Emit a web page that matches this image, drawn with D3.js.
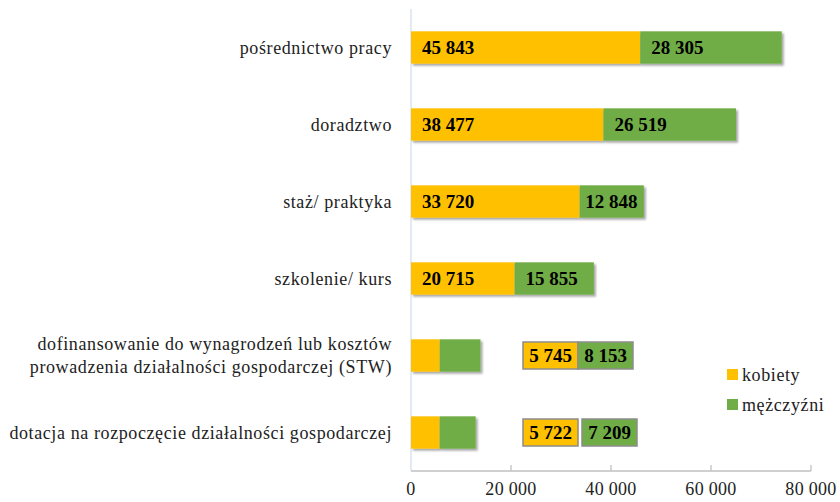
<!DOCTYPE html>
<html>
<head>
<meta charset="utf-8">
<script src="https://cdn.jsdelivr.net/npm/d3@7"></script>
<style>
  body { margin: 0; background: #fff; }
  svg text { font-family: "Liberation Serif", "DejaVu Serif", serif; }
</style>
</head>
<body>
<div id="chart-area"></div>
<script>
const categories = [
    "pośrednictwo pracy",
    "doradztwo",
    "staż/ praktyka",
    "szkolenie/ kurs",
    "dofinansowanie do wynagrodzeń lub kosztów\nprowadzenia działalności gospodarczej (STW)",
    "dotacja na rozpoczęcie działalności gospodarczej"
];
const kobiety = [45843, 38477, 33720, 20715, 5745, 5722];
const mezczyzni = [28305, 26519, 12848, 15855, 8153, 7209];
const seriesNames = ["kobiety", "mężczyźni"];
const xTicks = [0, 20000, 40000, 60000, 80000];

const colors = ["#FFC000", "#70AD47"];
const serif = "'Liberation Serif', 'Times New Roman', serif";
const fmt = d => d3.format(",")(d).replace(/,/g, " ");

const svgWidth = 840, svgHeight = 502;
const svg = d3.select("#chart-area").append("svg")
    .attr("width", svgWidth)
    .attr("height", svgHeight)
    .style("font-family", serif);

const defs = svg.append("defs");
defs.append("filter")
    .attr("id", "shadow")
    .attr("x", "-5%").attr("y", "-20%")
    .attr("width", "115%").attr("height", "150%")
    .append("feDropShadow")
    .attr("dx", 2).attr("dy", 2)
    .attr("stdDeviation", 1.3)
    .attr("flood-color", "#000")
    .attr("flood-opacity", 0.35);

const x = d3.scaleLinear().domain([0, 80000]).range([411, 811]);
const y = d3.scaleBand().domain(categories).range([9, 471])
    .paddingInner(0.58).paddingOuter(0.29);

const rows = categories.map((c, i) => ({ cat: c, k: kobiety[i], m: mezczyzni[i] }));

// axes
svg.append("line")
    .attr("x1", x(0)).attr("x2", x(0))
    .attr("y1", 9).attr("y2", 471)
    .attr("stroke", "#d5dfee").attr("stroke-width", 1.3);
svg.append("line")
    .attr("x1", x(0)).attr("x2", x(80000))
    .attr("y1", 471).attr("y2", 471)
    .attr("stroke", "#c0c0c0").attr("stroke-width", 1.3);
svg.selectAll(".tick-mark").data(xTicks.slice(1)).join("line")
    .attr("class", "tick-mark")
    .attr("x1", d => x(d)).attr("x2", d => x(d))
    .attr("y1", 465).attr("y2", 471)
    .attr("stroke", "#c0c0c0").attr("stroke-width", 1.3);
svg.selectAll(".tick-label").data(xTicks).join("text")
    .attr("class", "tick-label")
    .attr("x", d => x(d))
    .attr("y", 495)
    .attr("text-anchor", "middle")
    .attr("font-family", serif)
    .style("font-size", "18px")
    .style("letter-spacing", "0.3px")
    .attr("fill", "#222")
    .text(d => fmt(d));

// bars
const barG = svg.append("g").attr("filter", "url(#shadow)");
rows.forEach(r => {
    barG.append("rect")
        .attr("x", x(0)).attr("y", y(r.cat))
        .attr("width", x(r.k) - x(0)).attr("height", y.bandwidth())
        .attr("fill", colors[0]);
    barG.append("rect")
        .attr("x", x(r.k)).attr("y", y(r.cat))
        .attr("width", x(r.k + r.m) - x(r.k)).attr("height", y.bandwidth())
        .attr("fill", colors[1]);
});

// labels inside big bars
rows.slice(0, 4).forEach(r => {
    const cy = y(r.cat) + y.bandwidth() / 2 + 6.5;
    svg.append("text")
        .attr("x", x(0) + 11).attr("y", cy)
        .attr("font-family", serif)
        .style("font-size", "19px").style("font-weight", "bold")
        .text(fmt(r.k));
    const w = x(r.k + r.m) - x(r.k);
    svg.append("text")
        .attr("x", x(r.k) + Math.min(11, (w - 53) / 2)).attr("y", cy)
        .attr("font-family", serif)
        .style("font-size", "19px").style("font-weight", "bold")
        .text(fmt(r.m));
});

// moved labels for small bars (boxes)
const boxX = [[523, 578], [523, 582]];
rows.slice(4).forEach((r, i) => {
    const top = y(r.cat) + y.bandwidth() / 2 - 13.5;
    [r.k, r.m].forEach((v, j) => {
        const bx = boxX[i][j];
        svg.append("rect")
            .attr("x", bx).attr("y", top)
            .attr("width", 55).attr("height", 27)
            .attr("fill", colors[j])
            .attr("stroke", "#8c8c8c").attr("stroke-width", 1.5);
        svg.append("text")
            .attr("x", bx + 27.5).attr("y", top + 20)
            .attr("text-anchor", "middle")
            .attr("font-family", serif)
            .style("font-size", "19px").style("font-weight", "bold")
            .text(fmt(v));
    });
});

// category labels
rows.forEach(r => {
    const lines = r.cat.split("\n");
    const cy = y(r.cat) + y.bandwidth() / 2;
    const t = svg.append("text")
        .attr("text-anchor", "end")
        .attr("font-family", serif)
        .style("font-size", "18px")
        .style("letter-spacing", "0.6px")
        .attr("fill", "#222");
    lines.forEach((ln, li) => {
        t.append("tspan")
            .attr("x", 392)
            .attr("y", cy + 6 + (li - (lines.length - 1) / 2) * 23)
            .text(ln);
    });
});

// legend
seriesNames.forEach((s, i) => {
    svg.append("rect")
        .attr("x", 727).attr("y", 369 + i * 30)
        .attr("width", 11).attr("height", 11)
        .attr("fill", colors[i]);
    svg.append("text")
        .attr("x", 742).attr("y", 381 + i * 30)
        .attr("font-family", serif)
        .style("font-size", "18px")
        .style("letter-spacing", "0.6px")
        .attr("fill", "#222")
        .text(s);
});
</script>
</body>
</html>
